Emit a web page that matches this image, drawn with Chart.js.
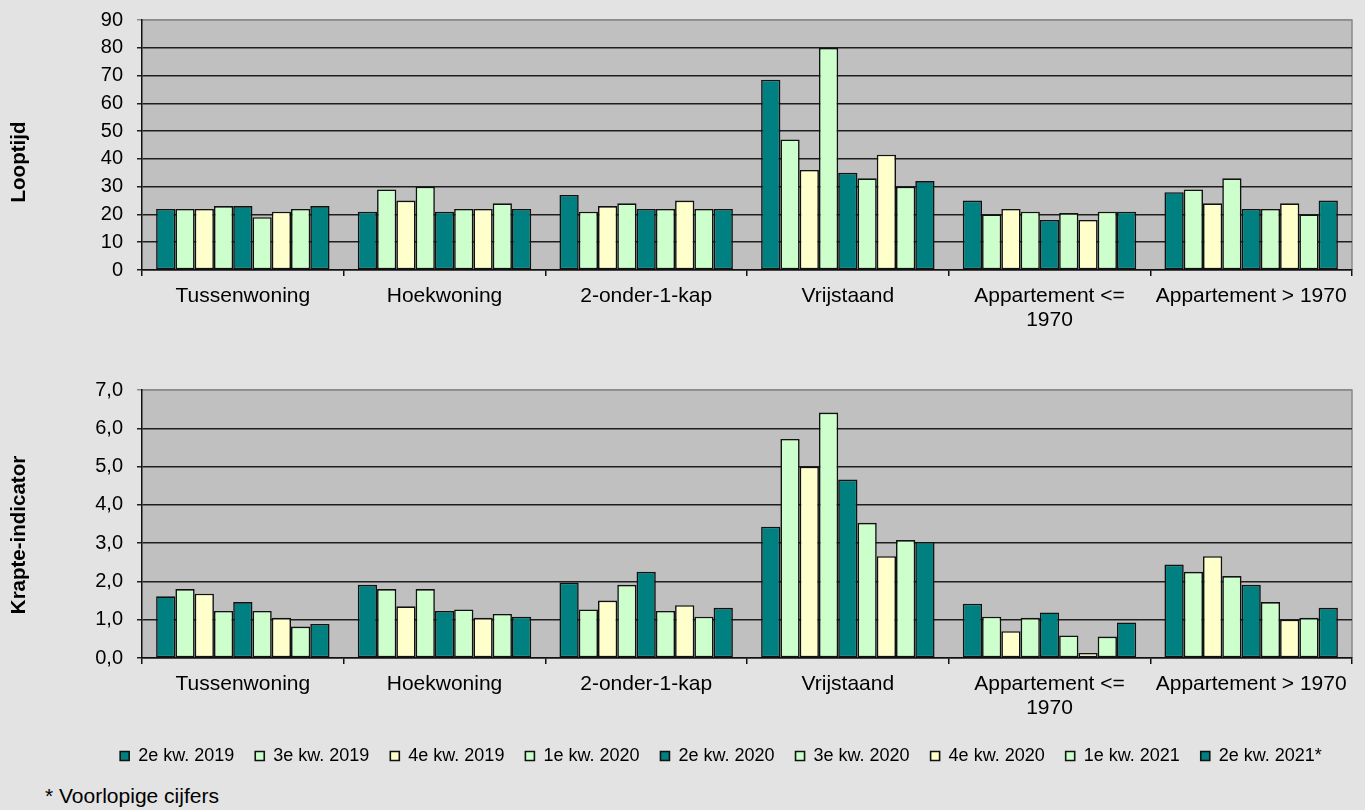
<!DOCTYPE html>
<html>
<head>
<meta charset="utf-8">
<script src="https://cdn.jsdelivr.net/npm/chart.js@4"></script>
<style>
  body { margin: 0; background: #e3e3e3; font-family: 'Liberation Sans', Arial, sans-serif; }
  #page { position: relative; width: 1365px; height: 810px; overflow: hidden; }
  .box { position: absolute; left: 0; width: 1365px; }
  .ytitle { position: absolute; font-weight: bold; font-size: 20.5px; color: #000;
            transform: translate(-50%, -50%) rotate(-90deg); white-space: nowrap; }
  #note { position: absolute; left: 45px; top: 784px; font-size: 21px; color: #000; }
</style>
</head>
<body>
<div id="page">
  <div class="box" style="top:0;height:338px"><canvas id="looptijdChart"></canvas></div>
  <div class="box" style="top:370px;height:405px"><canvas id="krapteChart"></canvas></div>
  <div class="ytitle" style="left:18px;top:162px">Looptijd</div>
  <div class="ytitle" style="left:18px;top:535px">Krapte-indicator</div>
  <div id="note">* Voorlopige cijfers</div>
</div>
<script>
// Categorieën (woningtypen)
const categories = ['Tussenwoning', 'Hoekwoning', '2-onder-1-kap', 'Vrijstaand', ['Appartement <=', '1970'], 'Appartement > 1970'];

// Kwartalen (series)
const quarters = ['2e kw. 2019', '3e kw. 2019', '4e kw. 2019', '1e kw. 2020', '2e kw. 2020',
                  '3e kw. 2020', '4e kw. 2020', '1e kw. 2021', '2e kw. 2021*'];

// Looptijd per kwartaal, in volgorde van de categorieën
const looptijd = [
  [22, 21, 27, 68.5, 25, 28],   // 2e kw. 2019
  [22, 29, 21, 47, 20, 29],     // 3e kw. 2019
  [22, 25, 23, 36, 22, 24],     // 4e kw. 2019
  [23, 30, 24, 80, 21, 33],     // 1e kw. 2020
  [23, 21, 22, 35, 18, 22],     // 2e kw. 2020
  [19, 22, 22, 33, 20.5, 22],   // 3e kw. 2020
  [21, 22, 25, 41.5, 18, 24],   // 4e kw. 2020
  [22, 24, 22, 30, 21, 20],     // 1e kw. 2021
  [23, 22, 22, 32, 21, 25]      // 2e kw. 2021*
];

// Krapte-indicator per kwartaal
const krapte = [
  [1.61, 1.91, 1.97, 3.43, 1.42, 2.44],
  [1.80, 1.80, 1.27, 5.72, 1.08, 2.25],
  [1.68, 1.35, 1.50, 5.00, 0.70, 2.66],
  [1.23, 1.80, 1.91, 6.41, 1.05, 2.14],
  [1.46, 1.23, 2.25, 4.66, 1.19, 1.91],
  [1.23, 1.27, 1.23, 3.53, 0.59, 1.46],
  [1.05, 1.05, 1.38, 2.66, 0.13, 1.00],
  [0.82, 1.15, 1.08, 3.08, 0.56, 1.05],
  [0.89, 1.08, 1.31, 3.03, 0.93, 1.31]
];

const teal = '#008080', green = '#ccffcc', yellow = '#ffffcc';
const quarterColors = [teal, green, yellow, green, teal, green, yellow, green, teal];

const FONT = "'Liberation Sans', Arial, sans-serif";

// Grijze achtergrond van het plotgebied
const plotBackground = {
  id: 'plotBackground',
  beforeDraw(chart) {
    const ctx = chart.ctx;
    const a = chart.chartArea;
    ctx.save();
    ctx.fillStyle = '#c0c0c0';
    ctx.fillRect(a.left, a.top, a.right - a.left, a.bottom - a.top);
    ctx.strokeStyle = '#8c8c8c';
    ctx.lineWidth = 1.5;
    ctx.beginPath();
    ctx.moveTo(a.left, a.top);
    ctx.lineTo(a.right, a.top);
    ctx.lineTo(a.right, a.bottom);
    ctx.stroke();
    ctx.restore();
  }
};

function makeDatasets(values) {
  return quarters.map((q, i) => ({
    label: q,
    data: values[i],
    backgroundColor: quarterColors[i],
    borderColor: '#111',
    borderWidth: 1.6,
    borderSkipped: false,
    categoryPercentage: 0.86,
    barPercentage: 1.0
  }));
}

function makeChart(id, values, max, step, fmt, showLegend) {
  return new Chart(document.getElementById(id), {
    type: 'bar',
    data: { labels: categories, datasets: makeDatasets(values) },
    plugins: [plotBackground],
    options: {
      responsive: true,
      maintainAspectRatio: false,
      animation: false,
      layout: { padding: { left: 90, right: 13, top: 20, bottom: 0 } },
      plugins: {
        tooltip: { enabled: false },
        legend: {
          display: showLegend,
          position: 'bottom',
          labels: {
            boxWidth: 9, boxHeight: 9, padding: 21, color: '#000',
            font: { family: FONT, size: 18 }
          }
        }
      },
      scales: {
        x: {
          afterFit: s => { s.height = 68; s.paddingLeft = 0; s.paddingRight = 0; },
          border: { color: '#111', width: 1.5 },
          grid: { drawOnChartArea: false, tickLength: 6, color: '#111', lineWidth: 1.5 },
          ticks: { color: '#000', padding: 8, maxRotation: 0, autoSkip: false,
                   font: { family: FONT, size: 21, lineHeight: 1.15 } }
        },
        y: {
          min: 0, max: max,
          afterFit: s => { s.width = 52; s.paddingTop = 0; s.paddingBottom = 0; },
          border: { color: '#111', width: 1.5 },
          grid: {
            tickLength: 5,
            lineWidth: 1.5,
            color: c => (c.tick && c.tick.value === max ? '#8c8c8c' : '#1e1e1e')
          },
          ticks: { stepSize: step, autoSkip: false, color: '#000', padding: 14,
                   font: { family: FONT, size: 20 }, callback: fmt }
        }
      }
    }
  });
}

makeChart('looptijdChart', looptijd, 90, 10, v => v, false);
makeChart('krapteChart', krapte, 7, 1, v => v.toFixed(1).replace('.', ','), true);
</script>
</body>
</html>
